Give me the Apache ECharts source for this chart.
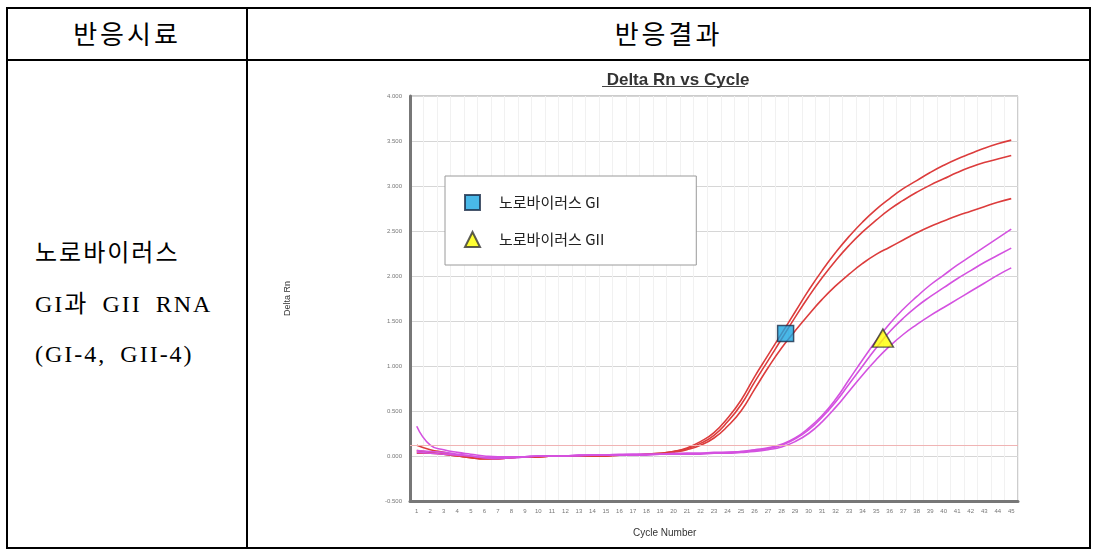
<!DOCTYPE html>
<html><head><meta charset="utf-8">
<script src="https://cdn.jsdelivr.net/npm/echarts@6/dist/echarts.min.js"></script>
<style>
html,body{margin:0;padding:0;background:#fff;width:1096px;height:558px;overflow:hidden;}
.ln{position:absolute;background:#000;}
.hd{position:absolute;font-family:"Noto Sans CJK KR",sans-serif;font-size:26px;letter-spacing:3px;color:#000;text-align:center;line-height:30px;top:18px;}
.lt{position:absolute;left:35px;font-family:"Liberation Serif","Noto Sans CJK KR",serif;font-size:24px;letter-spacing:2px;word-spacing:6px;color:#000;white-space:nowrap;line-height:28px;}
#chart{position:absolute;left:0;top:0;width:1096px;height:558px;}
</style></head>
<body>
<div class="ln" style="left:7px;top:7px;width:1084px;height:2px"></div>
<div class="ln" style="left:7px;top:59px;width:1084px;height:2px"></div>
<div class="ln" style="left:7px;top:547px;width:1084px;height:2px"></div>
<div class="ln" style="left:6px;top:7px;width:2px;height:542px"></div>
<div class="ln" style="left:246px;top:7px;width:2px;height:542px"></div>
<div class="ln" style="left:1089px;top:7px;width:2px;height:542px"></div>
<div class="hd" style="left:8px;width:238px">반응시료</div>
<div class="hd" style="left:248px;width:841px">반응결과</div>
<div class="lt" style="top:239px">노로바이러스</div>
<div class="lt" style="top:290px">GI과 GII RNA</div>
<div class="lt" style="top:340px">(GI-4, GII-4)</div>
<div id="chart"></div>
<script>
const cycles = Array.from({length:45},(_,i)=>String(i+1));
const giA = [0.06,0.04,0.02,0.00,-0.02,-0.03,-0.03,-0.02,-0.01,-0.01, 0,0,0,0,0,0.01,0.01,0.02,0.03,0.05, 0.09,0.16,0.26,0.42,0.62,0.88,1.12,1.36,1.60,1.84, 2.06,2.26,2.44,2.60,2.74,2.86,2.97,3.06,3.15,3.23, 3.30,3.36,3.42,3.47,3.51];
const giB = [0.03,0.03,0.02,0.00,-0.02,-0.03,-0.03,-0.02,-0.01,-0.01, 0,0,0,0,0,0.01,0.01,0.02,0.03,0.05, 0.08,0.14,0.23,0.38,0.57,0.82,1.06,1.30,1.54,1.77, 1.98,2.17,2.34,2.49,2.62,2.74,2.84,2.93,3.01,3.08, 3.15,3.21,3.26,3.30,3.34];
const giC = [0.12,0.07,0.04,0.01,-0.01,-0.03,-0.03,-0.02,-0.01,-0.01, 0,0,0,0,0,0.01,0.01,0.02,0.02,0.04, 0.07,0.12,0.20,0.33,0.50,0.74,0.98,1.20,1.39,1.57, 1.74,1.89,2.02,2.14,2.24,2.32,2.40,2.48,2.55,2.61, 2.67,2.72,2.77,2.82,2.86];
const giiA = [0.33,0.12,0.07,0.04,0.02,0.00,-0.01,-0.01,-0.01,0.00, 0,0,0.01,0.01,0.01,0.02,0.02,0.02,0.02,0.03, 0.03,0.03,0.04,0.04,0.05,0.07,0.09,0.13,0.20,0.31, 0.45,0.63,0.85,1.07,1.28,1.47,1.63,1.77,1.90,2.01, 2.12,2.22,2.32,2.42,2.52];
const giiB = [0.06,0.05,0.04,0.02,0.00,-0.02,-0.03,-0.02,-0.01,0.00, 0,0,0.01,0.01,0.01,0.01,0.02,0.02,0.02,0.02, 0.03,0.03,0.03,0.04,0.05,0.06,0.08,0.12,0.19,0.29, 0.43,0.60,0.80,1.00,1.20,1.38,1.53,1.66,1.77,1.87, 1.97,2.06,2.15,2.23,2.31];
const giiC = [0.04,0.03,0.02,0.01,0.00,-0.02,-0.02,-0.02,-0.01,0.00, 0,0,0,0.01,0.01,0.01,0.01,0.01,0.02,0.02, 0.02,0.02,0.03,0.03,0.04,0.05,0.07,0.10,0.16,0.25, 0.38,0.54,0.72,0.90,1.07,1.22,1.35,1.46,1.56,1.65, 1.74,1.83,1.92,2.01,2.09];
const threshold = 0.12;
const markerGI = [[28.3, 1.36]];
const markerGII = [[35.5, 1.31]];
const legendNames = ['노로바이러스 GI','노로바이러스 GII'];

const RED = '#dc3c3c', MAG = '#d452e0';
const chart = echarts.init(document.getElementById('chart'));
function line(data, color, extra){
  return Object.assign({type:'line', data, smooth:true, showSymbol:false, symbol:'none',
    lineStyle:{color, width:1.6}, itemStyle:{color}, silent:true, z:3}, extra||{});
}
chart.setOption({
  animation:false,
  title:{text:'Delta Rn vs Cycle', left:673, top:67, textAlign:'center',
    textStyle:{fontFamily:'Liberation Sans, Arial, sans-serif', fontSize:17, fontWeight:'bold', color:'#333'}},
  graphic:[
    {type:'line', shape:{x1:602,y1:86.5,x2:745,y2:86.5}, style:{stroke:'#444', lineWidth:1}},
    {type:'text', left:633, top:528, style:{text:'Cycle Number', fontFamily:'Liberation Sans, Arial, sans-serif', fontSize:10, fill:'#333'}}
  ],
  legend:{data:legendNames, orient:'vertical', left:445, top:176, itemWidth:15, itemHeight:15, itemGap:20,
    padding:[18,92,17,19], backgroundColor:'#fff', borderColor:'#9a9a9a', borderWidth:1,
    textStyle:{fontFamily:'Noto Sans CJK KR, sans-serif', fontSize:15, color:'#222', padding:[0,0,0,14]}},
  grid:{left:410, top:96, right:78, bottom:57, show:true, borderColor:'#9a9a9a', borderWidth:1, backgroundColor:'#fff'},
  xAxis:[
    {type:'category', data:cycles, boundaryGap:true,
      axisLine:{show:true, onZero:false, lineStyle:{color:'#777', width:3}},
      axisTick:{show:false},
      axisLabel:{interval:0, fontSize:6, color:'#777', margin:7, fontFamily:'Liberation Sans, Arial, sans-serif'},
      splitLine:{show:true, lineStyle:{color:'#f1f1f1', width:1}}},
    {type:'value', min:0.5, max:45.5, show:false}
  ],
  yAxis:{type:'value', min:-0.5, max:4, interval:0.5,
    name:'Delta Rn', nameLocation:'middle', nameGap:118,
    nameTextStyle:{fontFamily:'Liberation Sans, Arial, sans-serif', fontSize:9, color:'#333'},
    axisLine:{show:true, lineStyle:{color:'#777', width:3}},
    axisTick:{show:false},
    axisLabel:{fontSize:6, color:'#777', margin:8, formatter:v=>v.toFixed(3), fontFamily:'Liberation Sans, Arial, sans-serif'},
    splitLine:{show:true, lineStyle:{color:'#d6d6d6', width:1.2}}},
  series:[
    line(giA, RED, {markLine:{silent:true, symbol:'none', label:{show:false}, lineStyle:{color:'#f0b4b4', width:1, type:'solid'}, data:[{yAxis:threshold}]}}),
    line(giB, RED),
    line(giC, RED),
    line(giiA, MAG),
    line(giiB, MAG),
    line(giiC, MAG),
    {type:'scatter', name:legendNames[0], xAxisIndex:1, data:markerGI, symbol:'rect', symbolSize:16,
      itemStyle:{color:'#1ba6e2', borderColor:'#1b2d48', borderWidth:1.5}, z:5},
    {type:'scatter', name:legendNames[1], xAxisIndex:1, data:markerGII, symbol:'triangle', symbolSize:[21,18],
      itemStyle:{color:'#ffff00', borderColor:'#333', borderWidth:1.5}, z:5}
  ]
});
</script>
</body></html>
